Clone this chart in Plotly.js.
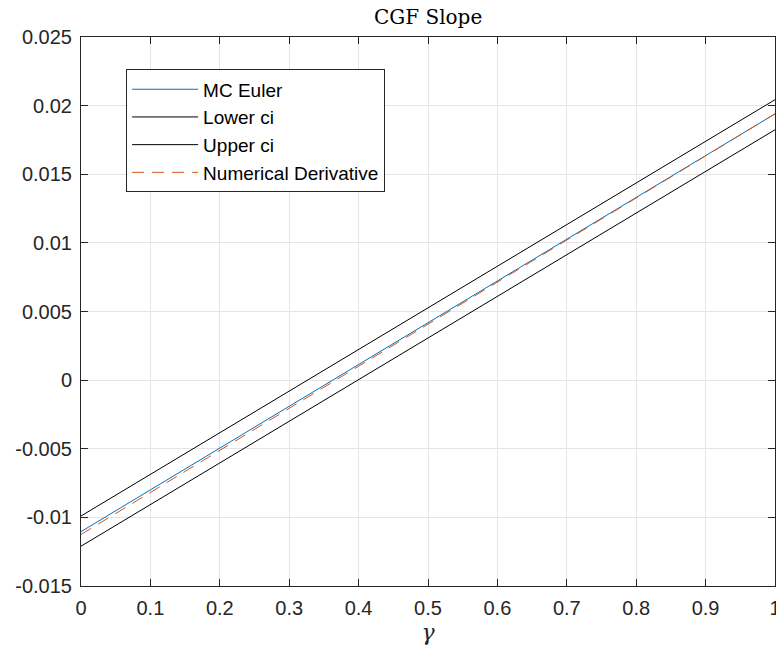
<!DOCTYPE html>
<html>
<head>
<meta charset="utf-8">
<script src="https://cdn.plot.ly/plotly-3.0.1.min.js"></script>
<style>html,body{margin:0;padding:0;background:#fff;}#chart{width:776px;height:651px;}</style>
</head>
<body>
<div id="chart"></div>
<script>
// gamma grid and the four curves of the CGF slope
const gamma = [0, 0.1, 0.2, 0.3, 0.4, 0.5, 0.6, 0.7, 0.8, 0.9, 1];
const mcEuler = [-0.01104, -0.00800, -0.00496, -0.00191, 0.00114, 0.00418, 0.00722, 0.01027, 0.01331, 0.01636, 0.01940];
const lowerCi = [-0.01210, -0.00907, -0.00603, -0.00300, 0.00004, 0.00307, 0.00610, 0.00914, 0.01217, 0.01521, 0.01824];
const upperCi = [-0.00990, -0.00687, -0.00384, -0.00080, 0.00223, 0.00527, 0.00830, 0.01133, 0.01436, 0.01740, 0.02043];
const numDeriv = [-0.01125, -0.00818, -0.00512, -0.00205, 0.00102, 0.00408, 0.00715, 0.01021, 0.01328, 0.01634, 0.01940];

const xTickVals = [0, 0.1, 0.2, 0.3, 0.4, 0.5, 0.6, 0.7, 0.8, 0.9, 1];
const xTickText = ['0', '0.1', '0.2', '0.3', '0.4', '0.5', '0.6', '0.7', '0.8', '0.9', '1'];
const yTickVals = [-0.015, -0.01, -0.005, 0, 0.005, 0.01, 0.015, 0.02, 0.025];
const yTickText = ['-0.015', '-0.01', '-0.005', '0', '0.005', '0.01', '0.015', '0.02', '0.025'];

const traces = [
  {x: gamma, y: mcEuler, name: 'MC Euler', mode: 'lines', line: {color: '#0072BD', width: 1}},
  {x: gamma, y: lowerCi, name: 'Lower ci', mode: 'lines', line: {color: '#000000', width: 1}},
  {x: gamma, y: upperCi, name: 'Upper ci', mode: 'lines', line: {color: '#000000', width: 1}},
  {x: gamma, y: numDeriv, name: 'Numerical Derivative', mode: 'lines', line: {color: '#D95319', width: 1, dash: '12px,8px'}}
];

const axisCommon = {
  showline: true, linecolor: '#262626', linewidth: 1, mirror: 'ticks',
  ticks: 'inside', ticklen: 7, tickcolor: '#262626', tickwidth: 1,
  showgrid: true, gridcolor: '#e5e5e5', gridwidth: 1, zeroline: false,
  ticklabeloverflow: 'allow', ticklabelstandoff: 4,
  tickfont: {family: 'Liberation Sans, Arial, sans-serif', size: 20, color: '#262626'}
};

const layout = {
  width: 776, height: 651,
  margin: {l: 81, r: 1, t: 37, b: 65},
  paper_bgcolor: '#ffffff', plot_bgcolor: '#ffffff',
  showlegend: true,
  title: {text: 'CGF Slope', x: 0.5517, xanchor: 'center', y: 0.974, yanchor: 'middle',
          font: {family: 'DejaVu Serif, Liberation Serif, serif', size: 20, color: '#000'}},
  xaxis: Object.assign({}, axisCommon, {
    range: [0, 1], tickvals: xTickVals, ticktext: xTickText,
    title: {text: '<i>γ</i>', standoff: 6, font: {family: 'DejaVu Serif, serif', size: 22, color: '#262626'}}
  }),
  yaxis: Object.assign({}, axisCommon, {
    range: [-0.015, 0.025], tickvals: yTickVals, ticktext: yTickText
  }),
  legend: {
    x: 0.065, y: 0.941, xanchor: 'left', yanchor: 'top',
    bgcolor: '#ffffff', bordercolor: '#262626', borderwidth: 1,
    font: {family: 'Liberation Sans, Arial, sans-serif', size: 19, color: '#000'},
    itemwidth: 66, tracegroupgap: 0
  }
};

Plotly.newPlot('chart', traces, layout, {displayModeBar: false, staticPlot: true});
</script>
</body>
</html>
